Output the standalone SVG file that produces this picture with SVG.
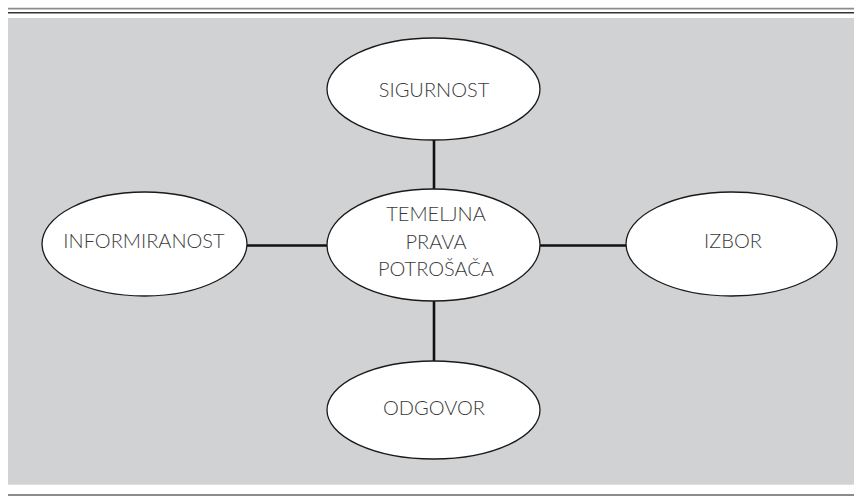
<svg xmlns="http://www.w3.org/2000/svg" width="854" height="497" viewBox="0 0 854 497">
<style>
.node ellipse{fill:#fff;stroke:#1a1a1a;stroke-width:1.3}
.node text{font-family:Lato,"Open Sans","Liberation Sans",sans-serif;font-weight:300;font-size:20px;fill:#3a3a3a;text-anchor:middle}
.conn line{stroke:#111;stroke-width:2.6}
</style>
<rect x="0" y="0" width="854" height="497" fill="#fff"/>
<line x1="8" y1="8.6" x2="854" y2="8.6" stroke="#8c8c8c" stroke-width="1.6"/>
<line x1="8" y1="12.8" x2="854" y2="12.8" stroke="#333" stroke-width="1.4"/>
<rect x="8" y="18" width="846" height="466.7" fill="#d1d2d4"/>
<line x1="8" y1="495" x2="854" y2="495" stroke="#8c8c8c" stroke-width="2"/>
<g class="conn">
<line x1="434" y1="140" x2="434" y2="190"/>
<line x1="434" y1="300" x2="434" y2="362"/>
<line x1="247" y1="245.5" x2="328" y2="245.5"/>
<line x1="539" y1="245.5" x2="627" y2="245.5"/>
</g>
<g id="sigurnost" class="node">
<ellipse cx="433.5" cy="89" rx="106.5" ry="51"/>
<text x="434" y="97">SIGURNOST</text>
</g>
<g id="temeljna" class="node">
<ellipse cx="433.5" cy="245" rx="106.5" ry="56"/>
<text x="436" y="221">TEMELJNA</text>
<text x="436" y="249">PRAVA</text>
<text x="436" y="276">POTROŠAČA</text>
</g>
<g id="informiranost" class="node">
<ellipse cx="144.5" cy="244" rx="102.5" ry="52"/>
<text x="144" y="248">INFORMIRANOST</text>
</g>
<g id="izbor" class="node">
<ellipse cx="731.5" cy="244" rx="105.5" ry="52"/>
<text x="733" y="248">IZBOR</text>
</g>
<g id="odgovor" class="node">
<ellipse cx="433.5" cy="410" rx="106.5" ry="49"/>
<text x="434" y="415">ODGOVOR</text>
</g>
</svg>
